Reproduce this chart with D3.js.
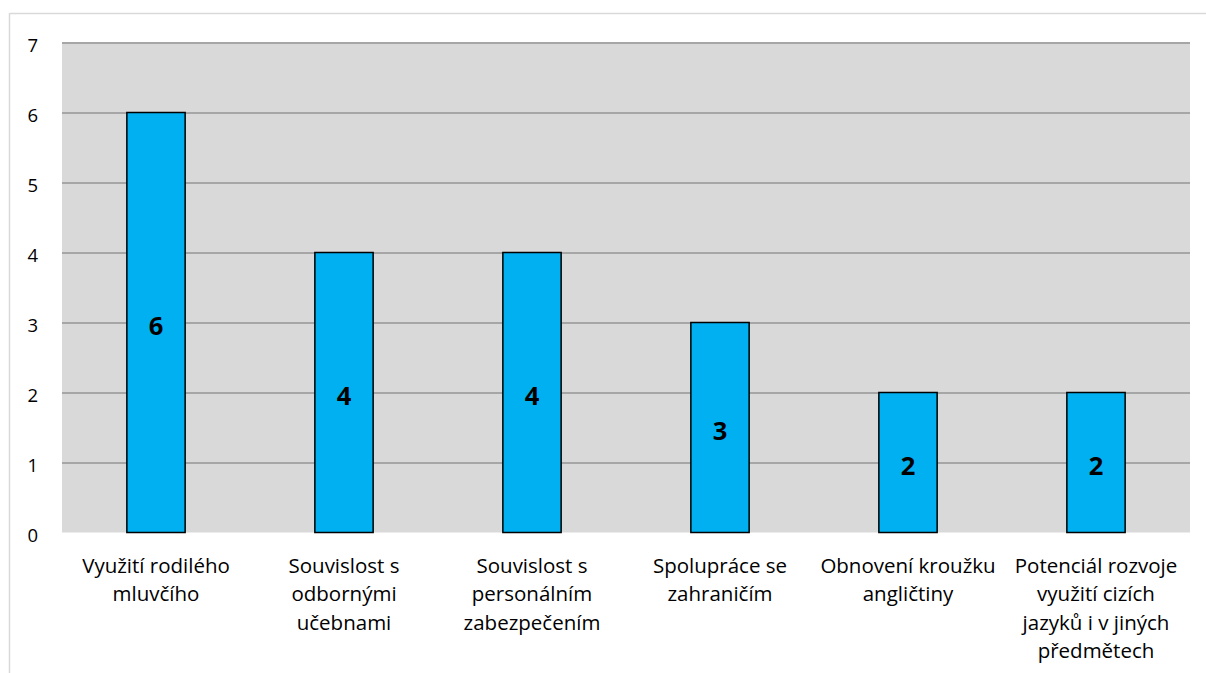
<!DOCTYPE html>
<html><head><meta charset="utf-8">
<script src="https://cdn.jsdelivr.net/npm/d3@7/dist/d3.min.js"></script>
<style>html,body{margin:0;padding:0;background:#fff;}svg{display:block;}</style>
</head><body>
<svg id="chart" width="1206" height="673"></svg>
<script>
const categories = [
  "Využití rodilého mluvčího",
  "Souvislost s odbornými učebnami",
  "Souvislost s personálním zabezpečením",
  "Spolupráce se zahraničím",
  "Obnovení kroužku angličtiny",
  "Potenciál rozvoje využití cizích jazyků i v jiných předmětech"
];
const categoryLines = [
  ["Využití rodilého", "mluvčího"],
  ["Souvislost s", "odbornými", "učebnami"],
  ["Souvislost s", "personálním", "zabezpečením"],
  ["Spolupráce se", "zahraničím"],
  ["Obnovení kroužku", "angličtiny"],
  ["Potenciál rozvoje", "využití cizích", "jazyků i v jiných", "předmětech"]
];
const values = [6, 4, 4, 3, 2, 2];
const yTicks = [0, 1, 2, 3, 4, 5, 6, 7];

const svg = d3.select("#chart");
const font = "'Open Sans', sans-serif";
const m = {left: 62, right: 1190, top: 42.5, bottom: 532.5};

// chart border
svg.append("line").attr("x1", 10).attr("x2", 1206).attr("y1", 13.5).attr("y2", 13.5)
  .attr("stroke", "#d9d9d9").attr("stroke-width", 1.5);
svg.append("line").attr("x1", 9.5).attr("x2", 9.5).attr("y1", 13).attr("y2", 673)
  .attr("stroke", "#d9d9d9").attr("stroke-width", 1.5);

const x = d3.scaleBand().domain(categories).range([m.left, m.right]).paddingInner(0.69).paddingOuter(0.345);
const y = d3.scaleLinear().domain([0, 7]).range([m.bottom, m.top]);

svg.append("rect").attr("x", m.left).attr("y", m.top).attr("width", m.right - m.left)
  .attr("height", m.bottom - m.top).attr("fill", "#d9d9d9");

// gridlines
const yAxis = d3.axisLeft(y).tickValues(yTicks).tickSize(-(m.right - m.left)).tickFormat(d3.format("d")).tickPadding(24);
const ga = svg.append("g").attr("transform", `translate(${m.left},0)`).call(yAxis);
ga.select(".domain").remove();
ga.selectAll(".tick line").attr("stroke", d => d === 0 ? "none" : "#a6a6a6").attr("stroke-width", 2);
ga.selectAll(".tick text").attr("font-family", font).attr("font-size", 18.5).attr("fill", "#000")
  .attr("dy", "0.47em");

// bars
svg.append("g").selectAll("rect").data(values).join("rect")
  .attr("x", (d, i) => x(categories[i]))
  .attr("y", d => y(d))
  .attr("width", x.bandwidth())
  .attr("height", d => y(0) - y(d))
  .attr("fill", "#00b0f0").attr("stroke", "#000").attr("stroke-width", 1.5);

// bar value labels
svg.append("g").selectAll("text").data(values).join("text")
  .attr("x", (d, i) => x(categories[i]) + x.bandwidth() / 2)
  .attr("y", d => (y(d) + y(0)) / 2 + 2)
  .attr("text-anchor", "middle").attr("dominant-baseline", "central")
  .attr("font-family", font).attr("font-weight", "bold").attr("font-size", 25.5)
  .text(d => d);

// category labels
const cl = svg.append("g");
categories.forEach((c, i) => {
  const t = cl.append("text").attr("text-anchor", "middle")
    .attr("font-family", font).attr("font-size", 20.5).attr("fill", "#000");
  categoryLines[i].forEach((line, j) => {
    t.append("tspan").attr("x", x(c) + x.bandwidth() / 2).attr("y", 573 + j * 28.3).text(line);
  });
});
</script>
</body></html>
